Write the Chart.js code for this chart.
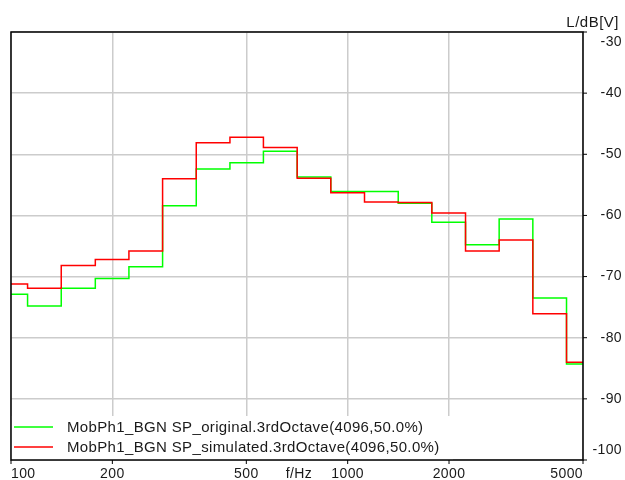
<!DOCTYPE html>
<html>
<head>
<meta charset="utf-8">
<script src="https://cdn.jsdelivr.net/npm/chart.js@4.4.1/dist/chart.umd.min.js"></script>
<style>
  html, body { margin: 0; padding: 0; background: #fff; }
  canvas { display: block; }
</style>
</head>
<body>
<canvas id="chart" width="625" height="480"></canvas>
<script>
// third-octave band edges (Hz), one more than the number of bands
const bandEdges = [89.1, 112, 141, 178, 224, 282, 355, 447, 562, 708, 891, 1122, 1413, 1778, 2239, 2818, 3548, 4467, 5623];
const originalLevels = [-72.9, -74.8, -71.9, -70.3, -68.4, -58.4, -52.4, -51.4, -49.5, -53.7, -56.1, -56.1, -58.0, -61.1, -64.8, -60.6, -73.5, -84.3];
const simulatedLevels = [-71.2, -71.9, -68.2, -67.2, -65.8, -54.0, -48.1, -47.2, -48.9, -53.9, -56.3, -57.8, -57.9, -59.6, -65.8, -64.0, -76.1, -84.0];
const freqTicks = [100, 200, 500, 1000, 2000, 5000];
const levelTicks = [-30, -40, -50, -60, -70, -80, -90, -100];
const seriesLabels = [
  'MobPh1_BGN SP_original.3rdOctave(4096,50.0%)',
  'MobPh1_BGN SP_simulated.3rdOctave(4096,50.0%)'
];
const xTitle = 'f/Hz';
const yTitle = 'L/dB[V]';

const FONT = '"Liberation Sans", Arial, sans-serif';

// each band holds its level from its lower edge to the next edge
function stepPoints(levels) {
  const pts = levels.map((v, i) => ({ x: bandEdges[i], y: v }));
  pts.push({ x: bandEdges[levels.length], y: levels[levels.length - 1] });
  return pts;
}

const frameAndLabels = {
  id: 'frameAndLabels',
  afterDraw(chart) {
    const ctx = chart.ctx;
    const area = chart.chartArea;
    const xs = chart.scales.x;
    const ys = chart.scales.y;
    ctx.save();

    // legend box inside the plot, bottom left
    const lgRight = 453, lgTop = 416;
    ctx.fillStyle = '#fff';
    ctx.fillRect(area.left, lgTop, lgRight - area.left, area.bottom - lgTop);
    const colors = ['#00ff00', '#ff0000'];
    const rows = [427, 447];
    ctx.font = '15px ' + FONT;
    ctx.letterSpacing = '0.35px';
    ctx.textBaseline = 'middle';
    ctx.textAlign = 'left';
    seriesLabels.forEach((lab, i) => {
      ctx.strokeStyle = colors[i];
      ctx.lineWidth = 1.5;
      ctx.beginPath();
      ctx.moveTo(14, rows[i]);
      ctx.lineTo(53, rows[i]);
      ctx.stroke();
      ctx.fillStyle = '#1a1a1a';
      ctx.fillText(lab, 67, rows[i] + 1);
    });

    // frame
    ctx.strokeStyle = '#000';
    ctx.lineWidth = 1.5;
    ctx.strokeRect(area.left, area.top, area.right - area.left, area.bottom - area.top);

    // ticks and tick labels
    ctx.lineWidth = 1;
    ctx.fillStyle = '#1a1a1a';
    ctx.font = '14px ' + FONT;
    ctx.letterSpacing = '0.4px';
    freqTicks.forEach((f, i) => {
      const px = xs.getPixelForValue(f);
      ctx.beginPath();
      ctx.moveTo(px, area.bottom);
      ctx.lineTo(px, area.bottom + 4);
      ctx.stroke();
      ctx.textAlign = i === 0 ? 'left' : (i === freqTicks.length - 1 ? 'right' : 'center');
      ctx.fillText(String(f), px, 474);
    });
    ctx.textAlign = 'center';
    ctx.fillText(xTitle, 299, 474);

    levelTicks.forEach((v, i) => {
      const py = ys.getPixelForValue(v);
      ctx.beginPath();
      ctx.moveTo(area.right, py);
      ctx.lineTo(area.right + 4, py);
      ctx.stroke();
      let ty = py;
      if (i === 0) ty = py + 10;
      if (i === levelTicks.length - 1) ty = py - 10;
      ctx.textAlign = 'right';
      ctx.fillText(String(v), 622, ty);
    });
    ctx.font = '15px ' + FONT;
    ctx.letterSpacing = '0.5px';
    ctx.textAlign = 'right';
    ctx.fillText(yTitle, 619, 23);
    ctx.restore();
  }
};

new Chart(document.getElementById('chart'), {
  type: 'line',
  data: {
    datasets: [
      {
        label: seriesLabels[0],
        data: stepPoints(originalLevels),
        borderColor: '#00ff00',
        borderWidth: 1.5,
        stepped: true,
        pointRadius: 0,
        fill: false,
        order: 1
      },
      {
        label: seriesLabels[1],
        data: stepPoints(simulatedLevels),
        borderColor: '#ff0000',
        borderWidth: 1.5,
        stepped: true,
        pointRadius: 0,
        fill: false,
        order: 0
      }
    ]
  },
  options: {
    responsive: false,
    animation: false,
    devicePixelRatio: 1,
    layout: { padding: { left: 11, right: 42, top: 32, bottom: 20 } },
    plugins: {
      legend: { display: false },
      tooltip: { enabled: false }
    },
    scales: {
      x: {
        type: 'logarithmic',
        min: 100,
        max: 5000,
        afterBuildTicks: (s) => { s.ticks = freqTicks.map(v => ({ value: v })); },
        ticks: { display: false },
        grid: { color: '#cccccc', lineWidth: 1.5, drawTicks: false },
        border: { display: false }
      },
      y: {
        type: 'linear',
        position: 'right',
        min: -100,
        max: -30,
        afterBuildTicks: (s) => { s.ticks = levelTicks.map(v => ({ value: v })); },
        ticks: { display: false },
        grid: { color: '#cccccc', lineWidth: 1.5, drawTicks: false },
        border: { display: false }
      }
    }
  },
  plugins: [frameAndLabels]
});
</script>
</body>
</html>
